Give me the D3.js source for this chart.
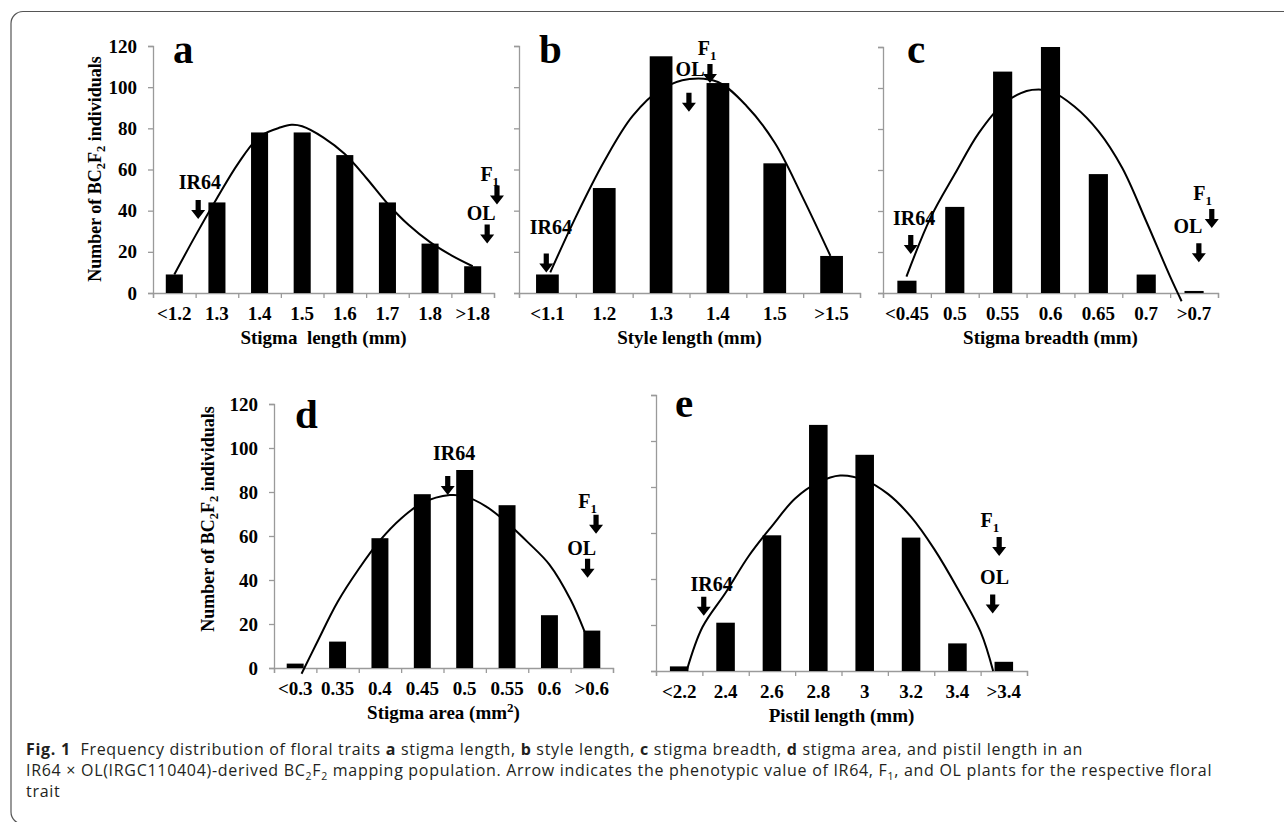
<!DOCTYPE html>
<html>
<head>
<meta charset="utf-8">
<script src="https://cdn.jsdelivr.net/npm/d3@7"></script>
<style>
  body { margin: 0; background: #fff; }
  svg text { font-family: "Liberation Serif", "Times New Roman", serif; font-weight: bold; }
  svg .cap { font-family: "Open Sans", "Noto Sans", sans-serif; font-weight: normal; }
</style>
</head>
<body>
<script>
//Data
var yTicks = [0, 20, 40, 60, 80, 100, 120];

// a: stigma length
var aCategories = ["<1.2", "1.3", "1.4", "1.5", "1.6", "1.7", "1.8", ">1.8"];
var aCounts = [9, 44, 78, 78, 67, 44, 24, 13];
// trend line: [position in category units, count]
var aCurve = [[0.5, 9], [1, 28], [1.5, 46], [2, 63], [2.5, 76], [3, 80.5], [3.25, 81.7], [3.5, 81], [4, 75.5],
              [4.5, 67.5], [5, 56], [5.5, 43.5], [6, 33], [6.5, 24.7], [7, 18.3], [7.5, 13]];
// parents: [label, label pos, label value, arrow pos, arrow tip value]
var aParents = [["IR64", 1.1, 54, 1.06, 36], ["F1", 7.9, 58, 8.07, 43], ["OL", 7.7, 38.7, 7.84, 24]];

// b: style length
var bCategories = ["<1.1", "1.2", "1.3", "1.4", "1.5", ">1.5"];
var bCounts = [9, 51, 115, 102, 63, 18];
var bCurve = [[0.55, 10], [1, 37], [1.5, 64], [2, 86], [2.5, 99], [3, 104], [3.5, 102.5], [4, 91],
              [4.5, 73], [5, 46], [5.48, 18]];
var bParents = [["IR64", 0.56, 32, 0.48, 10], ["F1", 3.31, 119, 3.36, 102], ["OL", 3.01, 109, 2.99, 88]];

// c: stigma breadth
var cCategories = ["<0.45", "0.5", "0.55", "0.6", "0.65", "0.7", ">0.7"];
var cCounts = [6, 42, 108, 120, 58, 9, 1];
var cCurve = [[0.49, 8], [1, 37], [1.5, 58], [2, 78], [2.5, 92], [3, 98.5], [3.3, 99.2], [3.5, 98.5], [4, 91],
              [4.5, 79], [5, 61], [5.5, 35], [6, 8], [6.24, -4]];
var cParents = [["IR64", 0.65, 36.6, 0.58, 19], ["F1", 6.68, 48.8, 6.87, 31.7], ["OL", 6.37, 32.7, 6.6, 15]];

// d: stigma area
var dCategories = ["<0.3", "0.35", "0.4", "0.45", "0.5", "0.55", "0.6", ">0.6"];
var dCounts = [2, 12, 59, 79, 90, 74, 24, 17];
var dCurve = [[0.65, -2.6], [1, 11], [1.5, 30], [2, 45], [2.5, 58], [3, 68], [3.5, 75], [4.15, 78.6], [4.5, 78],
              [5, 73.5], [5.5, 66], [6, 57], [6.5, 47], [7, 31], [7.33, 16.5]];
var dParents = [["IR64", 4.25, 97.7, 4.1, 78.6], ["F1", 7.4, 76, 7.6, 61], ["OL", 7.26, 54.5, 7.4, 41]];

// e: pistil length
var eCategories = ["<2.2", "2.4", "2.6", "2.8", "3", "3.2", "3.4", ">3.4"];
var eCounts = [2, 21, 59, 107, 94, 58, 12, 4];
var eCurve = [[0.66, 0], [1, 19], [1.5, 34], [2, 50], [2.5, 63], [3, 75], [3.5, 82], [3.97, 85], [4.5, 83],
              [5, 77], [5.5, 67], [6, 53], [6.5, 36], [7, 17], [7.27, 0]];
var eParents = [["IR64", 1.2, 38, 1.03, 24], ["F1", 7.2, 65.6, 7.4, 50], ["OL", 7.3, 41, 7.26, 25]];

//layout of the five panels
var panels = [
  {letter: "a", cats: aCategories, counts: aCounts, curve: aCurve, parents: aParents, title: "Stigma  length (mm)",
   x0: 153, x1: 494, top: 46, bottom: 293, yLabels: true, letterAt: [20, 17], yTitleAt: [95, 169]},
  {letter: "b", cats: bCategories, counts: bCounts, curve: bCurve, parents: bParents, title: "Style length (mm)",
   x0: 519, x1: 860, top: 46, bottom: 293, yLabels: false, letterAt: [20, 17]},
  {letter: "c", cats: cCategories, counts: cCounts, curve: cCurve, parents: cParents, title: "Stigma breadth (mm)",
   x0: 883, x1: 1218, top: 47, bottom: 293, yLabels: false, letterAt: [24, 16]},
  {letter: "d", cats: dCategories, counts: dCounts, curve: dCurve, parents: dParents, title: "Stigma area (mm2)",
   x0: 274, x1: 613, top: 404, bottom: 668, yLabels: true, letterAt: [21, 24], yTitleAt: [208, 519]},
  {letter: "e", cats: eCategories, counts: eCounts, curve: eCurve, parents: eParents, title: "Pistil length (mm)",
   x0: 656, x1: 1027, top: 395, bottom: 671, yLabels: false, letterAt: [19, 22]}
];

var axisColor = "#9a9a9a";

var svg = d3.select("body").append("svg")
            .attr("width", 1284)
            .attr("height", 822);

//outer frame with rounded left corners
svg.append("path")
   .attr("d", "M1290,11.5 H23 A12,12 0 0 0 11,23.5 V812 A12,12 0 0 0 23,824")
   .attr("fill", "none")
   .attr("stroke", "#555")
   .attr("stroke-width", 1.2);

panels.forEach(function(p) {
  var g = svg.append("g");
  var n = p.cats.length;
  var x = d3.scaleBand().domain(p.cats).range([p.x0, p.x1]).paddingInner(0.6).paddingOuter(0.3);
  var xPos = d3.scaleLinear().domain([0, n]).range([p.x0, p.x1]);
  var y = d3.scaleLinear().domain([0, 120]).range([p.bottom, p.top]);

  //axes
  var ya = g.append("g")
            .attr("transform", "translate(" + p.x0 + ",0)")
            .call(d3.axisLeft(y).tickValues(yTicks).tickSize(5).tickPadding(11)
                    .tickFormat(p.yLabels ? d3.format("d") : ""));
  ya.selectAll("text").attr("font-size", 19).attr("fill", "#000")
    .style("font-family", '"Liberation Serif", serif');

  g.append("g")
   .attr("transform", "translate(0," + p.bottom + ")")
   .call(d3.axisBottom(xPos).tickValues(d3.range(n + 1)).tickSize(5).tickFormat(""));
  g.selectAll(".domain, .tick line").attr("stroke", axisColor).attr("stroke-width", 1.3);

  //bars
  g.selectAll("rect.bar")
   .data(p.counts)
   .enter()
   .append("rect")
   .attr("class", "bar")
   .attr("x", function(d, i) { return x(p.cats[i]); })
   .attr("y", function(d) { return y(d); })
   .attr("width", x.bandwidth())
   .attr("height", function(d) { return y(0) - y(d); })
   .attr("fill", "#000");

  //trend line
  g.append("path")
   .datum(p.curve)
   .attr("d", d3.line()
                .x(function(d) { return xPos(d[0]); })
                .y(function(d) { return y(d[1]); })
                .curve(d3.curveCatmullRom.alpha(0.5)))
   .attr("fill", "none")
   .attr("stroke", "#000")
   .attr("stroke-width", 2);

  //category labels
  g.selectAll("text.cat")
   .data(p.cats)
   .enter()
   .append("text")
   .attr("class", "cat")
   .attr("x", function(d) { return x(d) + x.bandwidth() / 2; })
   .attr("y", p.bottom + 27)
   .attr("text-anchor", "middle")
   .attr("font-size", 19)
   .text(function(d) { return d; });

  //x title
  var t = g.append("text")
           .attr("x", (p.x0 + p.x1) / 2)
           .attr("y", p.bottom + 51)
           .attr("text-anchor", "middle")
           .attr("font-size", 19)
           .style("white-space", "pre");
  if (p.title.indexOf("mm2") >= 0) {
    t.append("tspan").text("Stigma area (mm");
    t.append("tspan").attr("font-size", 13).attr("dy", -7).text("2");
    t.append("tspan").attr("dy", 7).text(")");
  } else {
    t.text(p.title);
  }

  //panel letter
  g.append("text")
   .attr("x", p.x0 + p.letterAt[0])
   .attr("y", p.top + p.letterAt[1])
   .attr("font-size", 41)
   .text(p.letter);

  //y title
  if (p.yTitleAt) {
    var yt = g.append("text")
              .attr("transform", "translate(" + p.yTitleAt[0] + "," + p.yTitleAt[1] + ") rotate(-90)")
              .attr("text-anchor", "middle")
              .attr("dy", "0.35em")
              .attr("font-size", 18);
    yt.append("tspan").text("Number of BC");
    yt.append("tspan").attr("font-size", 12.5).attr("dy", 4).text("2");
    yt.append("tspan").attr("dy", -4).text("F");
    yt.append("tspan").attr("font-size", 12.5).attr("dy", 4).text("2");
    yt.append("tspan").attr("dy", -4).text(" individuals");
  }

  //parent arrows and labels
  p.parents.forEach(function(m) {
    var lx = xPos(m[1]), ly = y(m[2]);
    var lab = g.append("text")
               .attr("x", lx)
               .attr("y", ly)
               .attr("dy", "0.35em")
               .attr("text-anchor", "middle")
               .attr("font-size", 20);
    if (m[0] == "F1") {
      lab.append("tspan").text("F");
      lab.append("tspan").attr("font-size", 13).attr("dy", 5).text("1");
    } else {
      lab.text(m[0]);
    }
    var ax = xPos(m[3]), tip = y(m[4]);
    g.append("path")
     .attr("d", "M" + (ax - 2.6) + "," + (tip - 19) + " h5.2 v10 h4.4 L" + ax + "," + tip +
                " L" + (ax - 7) + "," + (tip - 9) + " h4.4 Z")
     .attr("fill", "#000");
  });
});

//caption
var captionLines = [
  [["Fig. 1", true], ["  Frequency distribution of floral traits ", false], ["a", true], [" stigma length, ", false],
   ["b", true], [" style length, ", false], ["c", true], [" stigma breadth, ", false], ["d", true],
   [" stigma area, and pistil length in an", false]],
  [["IR64 × OL(IRGC110404)-derived BC", false], ["2", "sub"], ["F", false], ["2", "sub"],
   [" mapping population. Arrow indicates the phenotypic value of IR64, F", false], ["1", "sub"],
   [", and OL plants for the respective floral", false]],
  [["trait", false]]
];
var captionY = [755, 776, 797];

captionLines.forEach(function(line, i) {
  var ct = svg.append("text")
              .attr("class", "cap")
              .attr("x", 26)
              .attr("y", captionY[i])
              .attr("font-size", 16)
              .attr("letter-spacing", 0.7)
              .attr("fill", "#231f20")
              .style("white-space", "pre");
  var shifted = false;
  line.forEach(function(s) {
    var ts = ct.append("tspan").text(s[0]);
    if (s[1] === true) ts.style("font-weight", "bold");
    if (s[1] === "sub") { ts.attr("font-size", 10.5).attr("dy", 3.5); shifted = true; }
    else if (shifted) { ts.attr("dy", -3.5); shifted = false; }
  });
});
</script>
</body>
</html>
